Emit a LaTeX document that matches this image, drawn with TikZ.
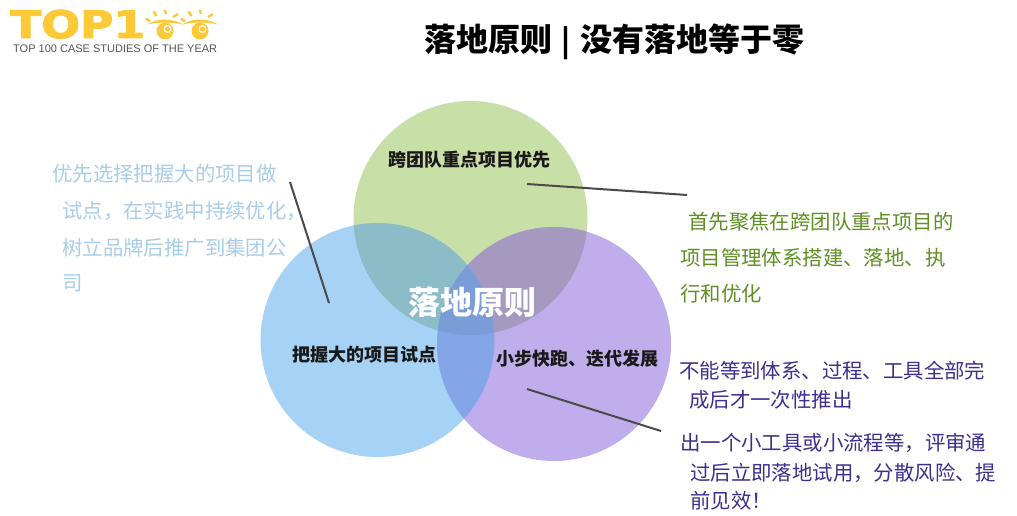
\documentclass[tikz,border=0pt]{standalone}
\usepackage{fontspec}
\setmainfont{Noto Sans CJK SC}
\newfontfamily\latinsans{Liberation Sans}
\newfontfamily\logofont[FakeBold=2.5]{DejaVu Sans Bold}
\definecolor{cgreen}{HTML}{C9DFA8}
\definecolor{cblue}{HTML}{A6D2F5}
\definecolor{cpurple}{HTML}{C0ADEC}
\definecolor{cgb}{HTML}{8BBCC8}
\definecolor{cgp}{HTML}{A699BF}
\definecolor{cbp}{HTML}{84A5E8}
\definecolor{cgbp}{HTML}{7A9DD8}
\definecolor{lefttext}{HTML}{A9CDE8}
\definecolor{greentext}{HTML}{5F9023}
\definecolor{purpletext}{HTML}{3B2F8F}
\definecolor{logoyellow}{HTML}{FDC936}
\definecolor{logogray}{HTML}{555555}
\definecolor{leader}{HTML}{4A4A4A}
\tikzset{
  txt/.style={anchor=base west,inner sep=0pt,font=\fontsize{20.4}{24}\selectfont},
  ltxt/.style={txt,text=lefttext},
  gtxt/.style={txt,text=greentext},
  ptxt/.style={txt,text=purpletext},
  clabel/.style={anchor=base west,inner sep=0pt,font=\fontsize{18}{20}\selectfont\bfseries,text=black!90},
  leaderline/.style={draw=leader,line width=2pt},
  ray/.style={draw=logoyellow,line width=2.4pt},
}
\begin{document}
\begin{tikzpicture}[x=1pt,y=-1pt]
\useasboundingbox (0,0) rectangle (1017,516);
\fill[white] (0,0) rectangle (1017,516);
% circles
\def\cg{(470.5,218) circle (117)}
\def\cb{(377.5,340) circle (117)}
\def\cp{(554,344) circle (117)}
\fill[cgreen] \cg;
\fill[cblue] \cb;
\fill[cpurple] \cp;
\begin{scope}\clip \cg; \fill[cgb] \cb; \fill[cgp] \cp; \end{scope}
\begin{scope}\clip \cb; \fill[cbp] \cp; \end{scope}
\begin{scope}\clip \cg; \clip \cb; \fill[cgbp] \cp; \end{scope}
% logo
\node[anchor=base west,inner sep=0pt,text=logoyellow,xscale=1.2,font=\fontsize{38}{40}\selectfont\logofont] (logo) at (10,38) {TOP1};
\node[anchor=base west,inner sep=0pt,text=logogray,font=\fontsize{11}{12}\selectfont\latinsans] (logosub) at (13,52.5) {TOP 100 CASE STUDIES OF THE YEAR};
\foreach \ex in {165,200}{
  \fill[logoyellow] (\ex-18,24.5) .. controls (\ex-8,18) and (\ex+8,18) .. (\ex+18,24.5)
     .. controls (\ex+8,22) and (\ex-8,22) .. cycle;
  \fill[logoyellow] (\ex,31) circle (8.5);
  \draw[white,line width=1.1pt] (\ex+2.5,29) circle (3.4);
  \draw[ray] (\ex-19,18.5) -- (\ex-15,21.5);
  \draw[ray] (\ex-11.5,11.5) -- (\ex-8.5,16);
  \draw[ray] (\ex,10) -- (\ex+1,14);
  \draw[ray] (\ex+13,14) -- (\ex+8,17);
}
% title
\node[anchor=base west,inner sep=0pt,font=\fontsize{32}{36}\selectfont\bfseries] (title) at (424,52) {落地原则\hspace{9.5pt}{\fontsize{29}{30}\selectfont |}\hspace{9.5pt}没有落地等于零};
% circle labels
\node[clabel] (lg) at (388,166) {跨团队重点项目优先};
\node[clabel] (lb) at (292,361) {把握大的项目试点};
\node[clabel] (lp) at (496,365) {小步快跑、迭代发展};
\node[anchor=base west,inner sep=0pt,text=white,font=\fontsize{32}{36}\selectfont\bfseries] (center) at (408,314) {落地原则};
% left text
\node[ltxt] (l1) at (52,181) {优先选择把握大的项目做};
\node[ltxt] (l2) at (62,218) {试点，在实践中持续优化，};
\node[ltxt] (l3) at (62,255) {树立品牌后推广到集团公};
\node[ltxt] (l4) at (62,290) {司};
% right green text
\node[gtxt] (g1) at (688,229) {首先聚焦在跨团队重点项目的};
\node[gtxt] (g2) at (680,265) {项目管理体系搭建、落地、执};
\node[gtxt] (g3) at (680,301) {行和优化};
% right purple text
\node[ptxt] (p1) at (679,378) {不能等到体系、过程、工具全部完};
\node[ptxt] (p2) at (689,407) {成后才一次性推出};
\node[ptxt] (p3) at (680,450) {出一个小工具或小流程等，评审通};
\node[ptxt] (p4) at (690,480) {过后立即落地试用，分散风险、提};
\node[ptxt] (p5) at (690,508) {前见效！};
% leaders
\coordinate (ag) at (527,184); \coordinate (bg) at (687,195);
\coordinate (ab) at (290,182); \coordinate (bb) at (329,303);
\coordinate (ap) at (527,389); \coordinate (bp) at (661,431);
\draw[leaderline] (ag) -- (bg);
\draw[leaderline] (ab) -- (bb);
\draw[leaderline] (ap) -- (bp);
\end{tikzpicture}
\end{document}
